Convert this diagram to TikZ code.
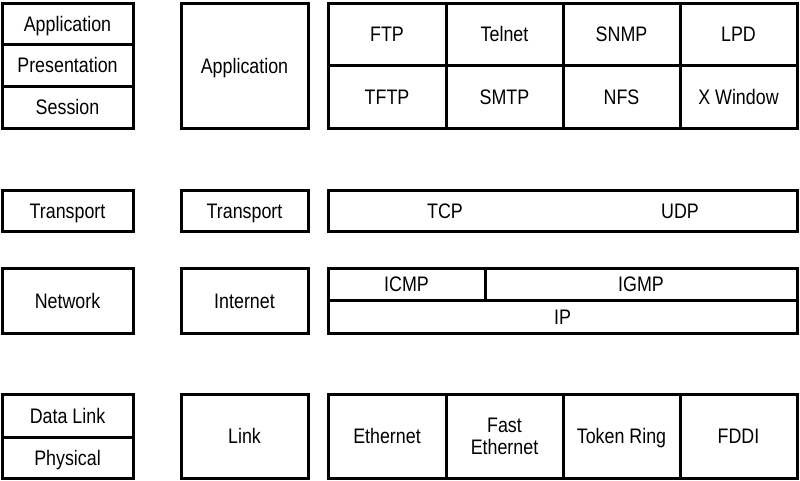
\documentclass[tikz,border=0pt]{standalone}
\usepackage{fontspec}
\setmainfont{Liberation Sans}[FakeStretch=0.85]
\begin{document}
\begin{tikzpicture}[
    x=1pt, y=-1pt, % pixel-like coordinates, y grows downwards
    cell/.style 2 args={draw, line width=3pt, inner sep=0pt,
        minimum width=#1, minimum height=#2,
        font=\fontsize{21}{22}\selectfont, text height=15pt, text depth=0pt},
    tag/.style={inner sep=0pt, font=\fontsize{21}{22}\selectfont,
        text height=15pt, text depth=0pt}
]
\useasboundingbox (0,0) rectangle (800,480);

% OSI layers
\node[cell={131pt}{41pt}] (osiApp) at (67.5, 23.5) {Application};
\node[cell={131pt}{42pt}] (osiPres) at (67.5, 65) {Presentation};
\node[cell={131pt}{42pt}] (osiSess) at (67.5, 107) {Session};
\node[cell={131pt}{41pt}] (osiTrans) at (67.5, 210.5) {Transport};
\node[cell={131pt}{65pt}] (osiNet) at (67.5, 300.5) {Network};
\node[cell={131pt}{43pt}] (osiData) at (67.5, 415.5) {Data Link};
\node[cell={131pt}{41pt}] (osiPhys) at (67.5, 457.5) {Physical};

% DoD layers
\node[cell={127pt}{125pt}] (dodApp) at (244.5, 65.5) {Application};
\node[cell={127pt}{41pt}] (dodTrans) at (244.5, 210.5) {Transport};
\node[cell={127pt}{65pt}] (dodNet) at (244.5, 300.5) {Internet};
\node[cell={127pt}{84pt}] (dodLink) at (244.5, 436) {Link};

% Application protocols
\node[cell={118pt}{62pt}] (ftp) at (387, 34) {FTP};
\node[cell={117pt}{62pt}] (telnet) at (504.5, 34) {Telnet};
\node[cell={117pt}{62pt}] (snmp) at (621.5, 34) {SNMP};
\node[cell={117pt}{62pt}] (lpd) at (738.5, 34) {LPD};
\node[cell={118pt}{63pt}] (tftp) at (387, 96.5) {TFTP};
\node[cell={117pt}{63pt}] (smtp) at (504.5, 96.5) {SMTP};
\node[cell={117pt}{63pt}] (nfs) at (621.5, 96.5) {NFS};
\node[cell={117pt}{63pt}] (xwin) at (738.5, 96.5) {X Window};

% Transport protocols
\node[cell={469pt}{41pt}] (tcpudp) at (562.5, 210.5) {};
\node[tag] (tcp) at (445, 210.5) {TCP};
\node[tag] (udp) at (680, 210.5) {UDP};

% Internet protocols
\node[cell={157pt}{32pt}] (icmp) at (406.5, 284) {ICMP};
\node[cell={312pt}{32pt}] (igmp) at (641, 284) {IGMP};
\node[cell={469pt}{33pt}] (ip) at (562.5, 316.5) {IP};

% Link protocols
\node[cell={118pt}{84pt}] (ether) at (387, 436) {Ethernet};
\node[cell={117pt}{84pt}, align=center, text height=37pt] (fastether) at (504.5, 436) {Fast\\Ethernet};
\node[cell={117pt}{84pt}] (token) at (621.5, 436) {Token Ring};
\node[cell={117pt}{84pt}] (fddi) at (738.5, 436) {FDDI};

\end{tikzpicture}
\end{document}
